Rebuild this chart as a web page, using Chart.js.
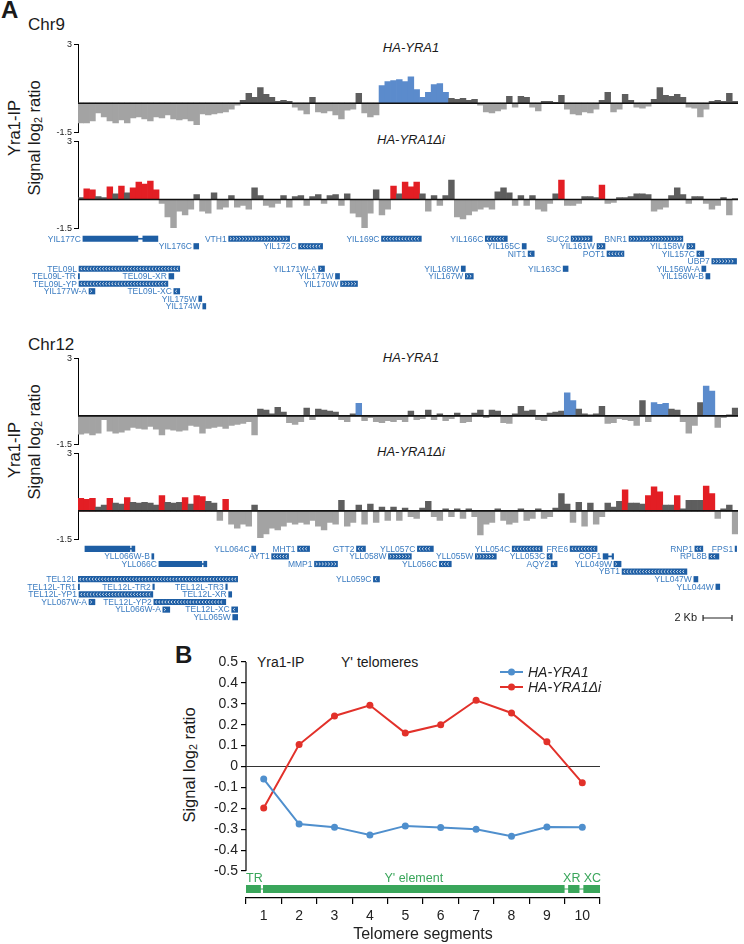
<!DOCTYPE html>
<html>
<head>
<meta charset="utf-8">
<script src="https://cdn.jsdelivr.net/npm/chart.js@4.4.1/dist/chart.umd.min.js"></script>
<style>
  body { margin: 0; background: #fff; width: 744px; height: 944px; position: relative; overflow: hidden;
         font-family: "Liberation Sans", Arial, sans-serif; }
  canvas { position: absolute; }
  .t { position: absolute; white-space: nowrap; color: #1a1a1a; line-height: 1; }
  .c { transform: translateX(-50%); }
  .rot { transform: translate(-50%, -50%) rotate(-90deg); }
  .it { font-style: italic; }
  sub { font-size: 0.65em; vertical-align: -0.25em; line-height: 0; }
</style>
</head>
<body>

<div class="t" style="left:1px;top:-2px;font-size:24px;font-weight:bold">A</div>
<div class="t" style="left:28px;top:16px;font-size:17px">Chr9</div>
<div class="t c it" style="left:411px;top:41px;font-size:13px">HA-YRA1</div>
<div class="t c it" style="left:411px;top:133px;font-size:13px">HA-YRA1Δi</div>
<div class="t rot" style="left:14px;top:128px;font-size:16.5px">Yra1-IP</div>
<div class="t rot" style="left:34px;top:138px;font-size:16.5px">Signal log<sub>2</sub> ratio</div>

<div class="t" style="left:28px;top:336px;font-size:17px">Chr12</div>
<div class="t c it" style="left:411px;top:351px;font-size:13px">HA-YRA1</div>
<div class="t c it" style="left:411px;top:445px;font-size:13px">HA-YRA1Δi</div>
<div class="t rot" style="left:14px;top:450px;font-size:16.5px">Yra1-IP</div>
<div class="t rot" style="left:34px;top:442px;font-size:16.5px">Signal log<sub>2</sub> ratio</div>

<div class="t" style="left:175px;top:643px;font-size:24px;font-weight:bold">B</div>
<div class="t" style="left:257px;top:655px;font-size:14px">Yra1-IP</div>
<div class="t" style="left:341px;top:655px;font-size:14px">Y' telomeres</div>
<div class="t rot" style="left:189px;top:765px;font-size:16.5px">Signal log<sub>2</sub> ratio</div>

<canvas id="trk1" width="744" height="103" style="left:0;top:37px"></canvas>
<canvas id="trk2" width="744" height="102" style="left:0;top:134px"></canvas>
<canvas id="gene9" width="744" height="75" style="left:0;top:235px"></canvas>
<canvas id="trk3" width="744" height="101" style="left:0;top:351px"></canvas>
<canvas id="trk4" width="744" height="101" style="left:0;top:446px"></canvas>
<canvas id="gene12" width="744" height="90" style="left:0;top:545px"></canvas>
<canvas id="panelB" width="460" height="304" style="left:160px;top:640px"></canvas>

<script>
// ---- panel A: ChIP-chip signal, 0.4 kb bins from the left telomere ----
const BIN_KB = 0.4;
const GENOME_KB = 45.6;

const chr9Yra1 = [
  -1.0, -1.0, -0.9, -0.5, -0.7, -0.9, -1.0, -0.85, -1.0, -0.75,
  -0.7, -0.8, -0.9, -0.7, -0.75, -0.6, -0.8, -0.85, -0.8, -0.9,
  -1.1, -0.55, -0.6, -0.55, -0.5, -0.45, -0.3, -0.1, 0.15, 0.5,
  0.3, 0.8, 0.45, 0.3, 0.1, 0.15, 0.1, -0.2, -0.35, -0.55,
  0.3, -0.45, -0.5, -0.4, -0.6, -0.8, -0.35, -0.3, 0.5, -0.5,
  -0.7, -0.6, 0.9, 1.1, 1.15, 1.2, 1.1, 1.35, 0.7, 0.3,
  0.55, 0.95, 1.0, 0.55, 0.25, 0.2, 0.25, 0.15, 0.2, -0.1,
  -0.45, -0.5, -0.4, -0.3, 0.35, -0.2, 0.35, 0.3, -0.2, -0.4,
  0.1, 0.1, 0.05, 0.4, -0.3, -0.55, -0.6, -0.45, -0.5, -0.3,
  0.15, 0.55, -0.45, -0.3, 0.45, 0.15, -0.2, -0.25, -0.15, 0.2,
  0.8, 0.4, 0.35, 0.45, 0.3, -0.2, -0.25, -0.7, -0.3, 0.1,
  0.15, 0.1, 0.5, 0.1
];
const chr9Yra1Di = [
  0.1, 0.55, 0.5, 0.15, 0.1, 0.65, 0.3, 0.7, 0.35, 0.6,
  0.9, 0.8, 0.95, 0.5, -0.2, -0.9, -1.45, -0.6, -0.8, -0.5,
  0.25, -0.6, -0.7, 0.35, -0.5, -0.4, 0.2, -0.4, -0.3, -0.5,
  0.6, 0.2, -0.3, -0.4, -0.2, 0.2, -0.4, 0.15, 0.2, -0.3,
  0.15, 0.25, -0.2, 0.2, 0.25, -0.3, 0.3, -0.7, -0.9, -1.45,
  -0.7, 0.5, -0.8, -0.5, 0.7, 0.3, 0.9, 0.65, 0.9, 0.3,
  -0.6, 0.2, -0.3, 0.2, 1.0, -0.9, -1.0, -0.8, -0.6, -0.5,
  -0.4, -0.5, 0.4, 0.6, 0.35, -0.3, 0.2, -0.3, 0.2, -0.5,
  -0.6, -0.2, 0.3, 1.0, -0.3, -0.3, -0.2, 0.15, 0.15, 0.1,
  0.75, -0.2, -0.15, 0.1, 0.1, 0.15, 0.3, 0.3, 0.25, -0.6,
  -0.5, -0.4, 0.2, 0.6, 0.25, -0.2, 0.15, 0.15, -0.2, -0.5,
  -0.3, 0.1, -0.8, 0.05
];
const chr12Yra1 = [
  -0.95, -0.9, -1.0, -0.9, -0.2, -0.8, -0.9, -0.85, -0.75, -0.6,
  -0.65, -0.7, -0.55, -0.7, -1.0, -0.7, -0.75, -0.8, -0.75, -0.5,
  -0.55, -0.9, -0.65, -0.6, -0.55, -0.65, -0.5, -0.45, -0.4, -0.3,
  -1.0, 0.35, 0.3, 0.1, 0.45, 0.2, -0.35, -0.45, -0.3, 0.4,
  -0.2, 0.35, 0.3, 0.25, 0.2, -0.2, -0.3, 0.1, 0.65, -0.25,
  -0.1, -0.3, -0.35, -0.25, -0.3, -0.2, -0.3, 0.25, -0.2, -0.15,
  0.3, -0.2, 0.1, -0.25, -0.15, 0.15, -0.35, -0.3, 0.15, 0.3,
  -0.1, 0.3, 0.25, -0.35, -0.4, 0.1, 0.5, 0.25, 0.3, -0.2,
  -0.25, 0.15, 0.2, 0.25, 1.2, 0.8, 0.35, 0.1, 0.05, 0.1,
  0.5, -0.4, -0.35, -0.15, -0.2, -0.25, -0.5, 0.8, -0.3, 0.7,
  0.6, 0.65, 0.35, 0.3, -0.3, -0.9, -0.5, 0.7, 1.55, 1.3,
  -0.6, -0.1, 0.05, 0.4
];
const chr12Yra1Di = [
  0.65, 0.6, 0.65, 0.2, 0.3, 0.65, 0.4, 0.35, 0.7, 0.45,
  0.4, 0.45, 0.4, 0.3, 0.8, 0.45, 0.4, 0.45, 0.7, 0.35,
  0.8, 0.75, 0.5, 0.4, -0.5, 0.6, -0.7, -0.9, -0.7, -0.8,
  0.3, -1.4, -1.2, -0.9, -1.0, -0.8, -0.6, -0.7, -0.6, -0.7,
  -0.5, -0.8, -1.0, -0.6, -0.7, 0.55, -0.8, -0.6, 0.3, -0.7,
  0.35, -0.6, 0.2, -0.5, 0.2, -0.5, 0.15, -0.3, -0.4, 0.15,
  0.5, -0.3, -0.5, 0.1, -0.3, 0.1, -0.4, 0.1, -0.3, -1.25,
  -0.7, -0.6, 0.1, -0.5, -0.7, -0.6, 0.1, -0.5, -0.4, 0.1,
  -0.4, -0.3, 0.15, 0.9, 0.35, -0.6, 0.45, -0.8, 0.4, -0.7,
  -0.3, 0.4, 0.2, 0.5, 1.1, 0.4, 0.4, 0.35, 0.8, 1.25,
  1.0, 0.3, 0.3, 0.8, 0.1, 0.55, 0.55, 0.55, 1.3, 0.9,
  -0.4, 0.1, 0.3, -1.2
];

// enriched regions (kb)
const chr9Yra1Peaks = [[20.8, 25.6]];
const chr9Yra1DiPeaks = [[0.4, 1.2], [2.0, 2.4], [2.8, 3.2], [3.6, 5.6], [21.6, 22.0], [22.4, 23.6], [33.2, 33.6], [36.0, 36.4]];
const chr12Yra1Peaks = [[19.2, 19.6], [33.6, 34.4], [39.6, 40.8], [43.2, 44.0]];
const chr12Yra1DiPeaks = [[0.0, 1.2], [2.0, 2.4], [3.2, 3.6], [5.6, 6.0], [7.2, 7.6], [8.0, 8.8], [10.0, 10.4], [37.6, 38.0], [39.2, 40.4], [41.2, 41.6], [43.2, 44.0]];

// genes (kb, row, strand C = <, W = >, '' = plain box)
const chr9GeneNames = ['YIL177C', '', 'VTH1', 'YIL169C', 'YIL166C', 'SUC2', 'BNR1',
  'YIL176C', 'YIL172C', 'YIL165C', 'YIL161W', 'YIL158W',
  'NIT1', 'POT1', 'YIL157C', 'UBP7',
  'TEL09L', 'YIL171W-A', 'YIL168W', 'YIL163C', 'YIL156W-A',
  'TEL09L-TR', 'TEL09L-XR', 'YIL171W', 'YIL167W', 'YIL156W-B',
  'TEL09L-YP', 'YIL170W', 'YIL177W-A', 'TEL09L-XC', 'YIL175W', 'YIL174W'];
const chr9GeneStart = [0.34, 4.48, 10.41, 20.97, 28.14, 34.07, 38.07,
  8.0, 15.24, 30.69, 35.86, 42.07,
  31.1, 36.55, 42.76, 43.79,
  0.07, 16.62, 26.48, 33.52, 43.1,
  0.0, 6.28, 17.79, 26.76, 43.38,
  0.07, 18.14, 0.76, 6.62, 8.34, 8.62];
const chr9GeneEnd = [4.14, 5.52, 14.62, 23.72, 29.66, 35.52, 41.79,
  8.34, 16.9, 30.97, 36.41, 42.62,
  31.52, 37.72, 43.24, 45.5,
  7.03, 17.03, 26.76, 33.86, 43.38,
  0.07, 6.62, 18.07, 27.31, 43.66,
  6.21, 19.31, 1.17, 7.03, 8.55, 8.83];
const chr9GeneRow = [0, 0, 0, 0, 0, 0, 0,
  1, 1, 1, 1, 1,
  2, 2, 2, 3,
  4, 4, 4, 4, 4,
  5, 5, 5, 5, 5,
  6, 6, 7, 7, 8, 9];
const chr9GeneStrand = ['', '', 'W', 'C', 'C', 'W', 'W',
  'C', 'C', 'C', 'W', 'W',
  'C', 'C', 'C', 'W',
  'C', 'W', '', 'C', 'W',
  '', 'C', 'W', 'W', 'W',
  'C', 'W', 'W', 'C', '', ''];
const chr9Introns = [[4.14, 4.48, 0]];

const chr12GeneNames = ['', '', 'YLL064C', 'MHT1', 'GTT2', 'YLL057C', 'YLL054C', 'FRE6', 'RNP1', 'FPS1',
  'YLL066W-B', 'AYT1', 'YLL058W', 'YLL055W', 'YLL053C', 'COF1', '', 'RPL8B',
  'YLL066C', '', 'MMP1', 'YLL056C', 'AQY2', 'YLL049W',
  'YBT1',
  'TEL12L', 'YLL059C', 'YLL047W',
  'TEL12L-TR1', 'TEL12L-TR2', 'TEL12L-TR3', 'YLL044W',
  'TEL12L-YP1', 'TEL12L-XR',
  'YLL067W-A', 'TEL12L-YP2',
  'YLL066W-A', 'TEL12L-XC',
  'YLL065W'];
const chr12GeneStart = [0.48, 3.72, 12.0, 15.17, 19.24, 23.45, 30.0, 34.0, 42.62, 45.4,
  5.1, 13.38, 21.45, 27.45, 32.41, 36.28, 36.9, 43.59,
  5.59, 8.69, 16.34, 24.97, 32.69, 37.03,
  37.59,
  0.0, 20.41, 42.55,
  0.0, 5.17, 10.21, 44.07,
  0.07, 10.41,
  0.76, 5.24,
  5.86, 10.62,
  10.69];
const chr12GeneEnd = [3.59, 3.93, 12.28, 16.0, 19.86, 24.55, 32.07, 35.86, 43.17, 45.5,
  5.24, 14.55, 23.03, 28.9, 32.76, 36.62, 37.0, 44.28,
  8.55, 8.9, 17.93, 25.79, 33.1, 37.52,
  42.07,
  11.03, 20.83, 42.83,
  0.07, 5.24, 10.28, 44.34,
  5.17, 10.62,
  1.17, 10.21,
  6.34, 11.03,
  11.03];
const chr12GeneRow = [0, 0, 0, 0, 0, 0, 0, 0, 0, 0,
  1, 1, 1, 1, 1, 1, 1, 1,
  2, 2, 2, 2, 2, 2,
  3,
  4, 4, 4,
  5, 5, 5, 5,
  6, 6,
  7, 7,
  8, 8,
  9];
const chr12GeneStrand = ['', '', '', 'C', 'C', 'C', 'C', 'C', 'C', '',
  '', 'C', 'W', 'W', 'C', '', '', 'C',
  '', '', 'W', 'C', 'C', 'W',
  'C',
  'C', 'C', 'W',
  '', '', '', 'W',
  'C', '',
  'W', 'C',
  'W', 'C',
  ''];
const chr12Introns = [[3.59, 3.72, 0], [36.62, 36.9, 1], [8.55, 8.69, 2]];
const scaleBarKb = 2;

// ---- panel B ----
const segments = [1, 2, 3, 4, 5, 6, 7, 8, 9, 10];
const haYra1 = [-0.06, -0.275, -0.29, -0.328, -0.284, -0.292, -0.30, -0.333, -0.289, -0.29];
const haYra1Di = [-0.198, 0.105, 0.242, 0.293, 0.16, 0.20, 0.317, 0.256, 0.118, -0.078];
const yTicksB = [0.5, 0.4, 0.3, 0.2, 0.1, 0, -0.1, -0.2, -0.3, -0.4, -0.5];
const elementNames = ['TR', "Y' element", 'XR', 'XC'];
const elementStart = [0.5, 0.98, 9.6, 10.03];
const elementEnd = [0.92, 9.5, 9.92, 10.5];

// ---- styles ----
const FONT = '"Liberation Sans", Arial, sans-serif';
const NEG_GRAY = '#a3a3a3';
const POS_GRAY = '#5e5e5e';
const BLUE = '#5b8bcc';
const RED = '#e31e24';
const GENE_BOX = '#1e5ea4';
const GENE_TEXT = '#3a7bc0';
const GREEN = '#3aa65b';
const LINE_BLUE = '#4f8fcd';
const LINE_RED = '#e2312a';

Chart.defaults.font.family = FONT;

function barColor(c, peaks, hi) {
  const v = c.raw;
  if (v < 0) return NEG_GRAY;
  const kb = (c.dataIndex + 0.5) * BIN_KB;
  return peaks.some(r => kb >= r[0] && kb < r[1]) ? hi : POS_GRAY;
}

const zeroLine = {
  id: 'zeroLine',
  afterDatasetsDraw(chart) {
    const { ctx, chartArea: a, scales: { y } } = chart;
    const y0 = y.getPixelForValue(0);
    ctx.save();
    ctx.strokeStyle = '#111';
    ctx.lineWidth = 1.6;
    ctx.beginPath();
    ctx.moveTo(a.left, y0);
    ctx.lineTo(a.right, y0);
    ctx.stroke();
    ctx.restore();
  }
};

function trackChart(id, values, peaks, hi) {
  return new Chart(document.getElementById(id), {
    type: 'bar',
    data: {
      labels: values.map((v, i) => i),
      datasets: [{
        data: values,
        backgroundColor: c => barColor(c, peaks, hi),
        borderWidth: 0,
        barPercentage: 1,
        categoryPercentage: 1
      }]
    },
    options: {
      responsive: false,
      animation: false,
      events: [],
      layout: { padding: { top: 6, bottom: 6, left: 0, right: 6 } },
      plugins: { legend: { display: false }, tooltip: { enabled: false } },
      scales: {
        x: { display: false },
        y: {
          min: -1.5,
          max: 3,
          afterFit: s => { s.width = 78; },
          afterBuildTicks: s => { s.ticks = [{ value: -1.5 }, { value: 3 }]; },
          ticks: { font: { size: 9 }, color: '#222', padding: 2, callback: v => String(v) },
          grid: { drawOnChartArea: false, tickLength: 4, color: '#000' },
          border: { color: '#000', width: 1 }
        }
      }
    },
    plugins: [zeroLine]
  });
}

function genePlugin(names, strands, withScaleBar) {
  return {
    id: 'geneLabels',
    afterDatasetsDraw(chart) {
      const { ctx } = chart;
      const meta = chart.getDatasetMeta(0);
      ctx.save();
      meta.data.forEach((el, i) => {
        const p = el.getProps(['x', 'base', 'y', 'height'], true);
        const left = Math.min(p.x, p.base);
        const right = Math.max(p.x, p.base);
        if (names[i]) {
          ctx.font = '8.5px ' + FONT;
          ctx.fillStyle = GENE_TEXT;
          ctx.textAlign = 'right';
          ctx.textBaseline = 'middle';
          ctx.fillText(names[i], left - 2, p.y + 0.5);
        }
        const dir = strands[i];
        if (dir && right - left > 5) {
          ctx.strokeStyle = '#fff';
          ctx.lineWidth = 0.8;
          for (let cx = left + 2.2; cx < right - 1.8; cx += 3.1) {
            ctx.beginPath();
            if (dir === 'C') {
              ctx.moveTo(cx + 0.9, p.y - 1.4);
              ctx.lineTo(cx - 0.6, p.y);
              ctx.lineTo(cx + 0.9, p.y + 1.4);
            } else {
              ctx.moveTo(cx - 0.9, p.y - 1.4);
              ctx.lineTo(cx + 0.6, p.y);
              ctx.lineTo(cx - 0.9, p.y + 1.4);
            }
            ctx.stroke();
          }
        }
      });
      if (withScaleBar) {
        const x = chart.scales.x;
        const a = chart.chartArea;
        const r = a.right - 6;
        const l = r - (x.getPixelForValue(scaleBarKb) - x.getPixelForValue(0));
        const yb = a.bottom - 3;
        ctx.strokeStyle = '#222';
        ctx.lineWidth = 1.2;
        ctx.beginPath();
        ctx.moveTo(l, yb); ctx.lineTo(r, yb);
        ctx.moveTo(l, yb - 3); ctx.lineTo(l, yb + 3);
        ctx.moveTo(r, yb - 3); ctx.lineTo(r, yb + 3);
        ctx.stroke();
        ctx.fillStyle = '#222';
        ctx.font = '11px ' + FONT;
        ctx.textAlign = 'right';
        ctx.textBaseline = 'middle';
        ctx.fillText(scaleBarKb + ' Kb', l - 6, yb);
      }
      ctx.restore();
    }
  };
}

function geneChart(id, names, starts, ends, rows, strands, introns, padBottom, withScaleBar) {
  const genes = names.map((n, i) => ({ x: [starts[i], ends[i]], y: String(rows[i]) }));
  const intronBars = introns.map(r => ({ x: [r[0], r[1]], y: String(r[2]) }));
  return new Chart(document.getElementById(id), {
    type: 'bar',
    data: {
      labels: ['0', '1', '2', '3', '4', '5', '6', '7', '8', '9'],
      datasets: [
        { data: genes, backgroundColor: GENE_BOX, borderWidth: 0, barThickness: 5.5, minBarLength: 1.5, grouped: false },
        { data: intronBars, backgroundColor: GENE_BOX, borderWidth: 0, barThickness: 1, grouped: false }
      ]
    },
    options: {
      indexAxis: 'y',
      responsive: false,
      animation: false,
      events: [],
      layout: { padding: { top: 0, bottom: padBottom, left: 78, right: 6 } },
      plugins: { legend: { display: false }, tooltip: { enabled: false } },
      scales: {
        x: { type: 'linear', min: 0, max: GENOME_KB, display: false },
        y: { display: false }
      }
    },
    plugins: [genePlugin(names, strands, withScaleBar)]
  });
}

trackChart('trk1', chr9Yra1, chr9Yra1Peaks, BLUE);
trackChart('trk2', chr9Yra1Di, chr9Yra1DiPeaks, RED);
geneChart('gene9', chr9GeneNames, chr9GeneStart, chr9GeneEnd, chr9GeneRow, chr9GeneStrand, chr9Introns, 0, false);
trackChart('trk3', chr12Yra1, chr12Yra1Peaks, BLUE);
trackChart('trk4', chr12Yra1Di, chr12Yra1DiPeaks, RED);
geneChart('gene12', chr12GeneNames, chr12GeneStart, chr12GeneEnd, chr12GeneRow, chr12GeneStrand, chr12Introns, 14, true);

// ---- panel B chart ----
const panelBDecor = {
  id: 'panelBDecor',
  beforeDatasetsDraw(chart) {
    const { ctx, chartArea: a, scales: { x, y } } = chart;
    ctx.save();
    // y axis line from 0.5 down to -0.5
    ctx.strokeStyle = '#000';
    ctx.lineWidth = 1.2;
    ctx.beginPath();
    ctx.moveTo(a.left, y.getPixelForValue(yTicksB[0]));
    ctx.lineTo(a.left, y.getPixelForValue(yTicksB[yTicksB.length - 1]));
    ctx.stroke();
    // zero line
    ctx.strokeStyle = '#333';
    ctx.lineWidth = 1.2;
    ctx.beginPath();
    ctx.moveTo(a.left, y.getPixelForValue(0));
    ctx.lineTo(a.right, y.getPixelForValue(0));
    ctx.stroke();
    // telomere element track
    const top = a.bottom - 13;
    const n = elementNames.length;
    ctx.strokeStyle = GREEN;
    ctx.lineWidth = 1;
    ctx.beginPath();
    ctx.moveTo(x.getPixelForValue(elementStart[0]), top + 4);
    ctx.lineTo(x.getPixelForValue(elementEnd[n - 1]), top + 4);
    ctx.stroke();
    ctx.fillStyle = GREEN;
    ctx.font = '12.5px ' + FONT;
    ctx.textBaseline = 'middle';
    elementNames.forEach((name, i) => {
      const l = x.getPixelForValue(elementStart[i]);
      const r = x.getPixelForValue(elementEnd[i]);
      ctx.fillRect(l, top, r - l, 8);
      if (i === 0) {
        ctx.textAlign = 'left';
        ctx.fillText(name, l, top - 6);
      } else if (i >= n - 2) {
        ctx.textAlign = 'right';
        ctx.fillText(name, r + 1, top - 6);
      } else {
        ctx.textAlign = 'center';
        ctx.fillText(name, (l + r) / 2, top - 6);
      }
    });
    ctx.restore();
  },
  afterDatasetsDraw(chart) {
    const { ctx, chartArea: a } = chart;
    ctx.save();
    chart.data.datasets.forEach((ds, i) => {
      const yy = a.top + 10 + i * 15;
      const x0 = a.right - 100;
      const x1 = a.right - 77;
      ctx.strokeStyle = ds.borderColor;
      ctx.lineWidth = 2;
      ctx.beginPath();
      ctx.moveTo(x0, yy);
      ctx.lineTo(x1, yy);
      ctx.stroke();
      ctx.fillStyle = ds.borderColor;
      ctx.beginPath();
      ctx.arc((x0 + x1) / 2, yy, 3.5, 0, Math.PI * 2);
      ctx.fill();
      ctx.fillStyle = '#222';
      ctx.font = 'italic 14px ' + FONT;
      ctx.textAlign = 'left';
      ctx.textBaseline = 'middle';
      ctx.fillText(ds.label, a.right - 72, yy + 1);
    });
    ctx.restore();
  }
};

new Chart(document.getElementById('panelB'), {
  type: 'line',
  data: {
    datasets: [
      {
        label: 'HA-YRA1',
        data: segments.map((s, i) => ({ x: s, y: haYra1[i] })),
        borderColor: LINE_BLUE,
        backgroundColor: LINE_BLUE,
        borderWidth: 2,
        pointRadius: 3.5,
        pointBorderWidth: 0,
        tension: 0
      },
      {
        label: 'HA-YRA1Δi',
        data: segments.map((s, i) => ({ x: s, y: haYra1Di[i] })),
        borderColor: LINE_RED,
        backgroundColor: LINE_RED,
        borderWidth: 2,
        pointRadius: 3.5,
        pointBorderWidth: 0,
        tension: 0
      }
    ]
  },
  options: {
    responsive: false,
    animation: false,
    events: [],
    layout: { padding: { top: 22, bottom: 0, left: 0, right: 20 } },
    plugins: { legend: { display: false }, tooltip: { enabled: false } },
    scales: {
      x: {
        type: 'linear',
        min: 0.5,
        max: 10.5,
        afterBuildTicks: s => { s.ticks = segments.map(v => ({ value: v })); },
        afterFit: s => { s.height = 46; },
        ticks: { font: { size: 14 }, color: '#222', padding: 4, autoSkip: false, maxRotation: 0, callback: v => String(v) },
        grid: { offset: true, drawOnChartArea: false, tickLength: 6, color: '#000', lineWidth: 1.2 },
        border: { color: '#000', width: 1.2 },
        title: { display: true, text: 'Telomere segments', font: { size: 16 }, color: '#222', padding: { top: 0, bottom: 0 } }
      },
      y: {
        min: -0.629,
        max: 0.5,
        afterBuildTicks: s => { s.ticks = yTicksB.map(v => ({ value: v })); },
        afterFit: s => { s.width = 86; },
        ticks: { font: { size: 14 }, color: '#222', padding: 3, callback: v => (v === 0 ? '0' : v.toFixed(1)) },
        grid: { drawOnChartArea: false, tickLength: 5, color: '#000', lineWidth: 1.2 },
        border: { display: false }
      }
    }
  },
  plugins: [panelBDecor]
});
</script>
</body>
</html>
